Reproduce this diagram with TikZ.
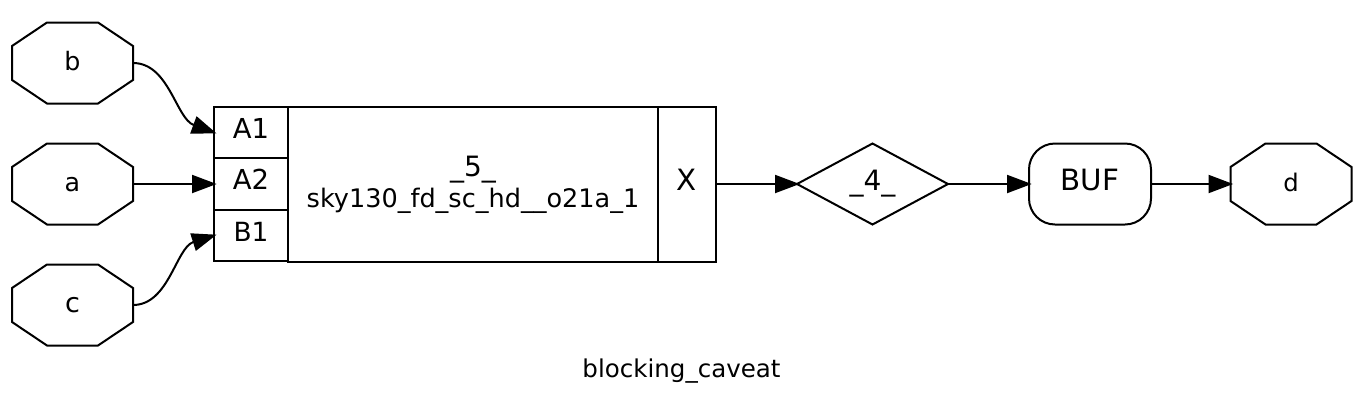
\documentclass[tikz,border=0pt]{standalone}
\usepackage{fontspec}
\setmainfont{DejaVu Sans}
\usetikzlibrary{arrows.meta,calc}
\newlength\px \setlength\px{0.75pt}
\newcommand\octa[1]{\draw[shape line] ($(#1.west)+(0,17\px)$) -- ($(#1.north west)+(35\px,0)$) -- ($(#1.north east)+(-35\px,0)$) -- ($(#1.east)+(0,17\px)$) -- ($(#1.east)+(0,-17\px)$) -- ($(#1.south east)+(-35\px,0)$) -- ($(#1.south west)+(35\px,0)$) -- ($(#1.west)+(0,-17\px)$) -- cycle;}
\tikzset{
  shape line/.style={draw=black,line width=1.5pt,line join=miter},
  base/.style={inner sep=0pt,outer sep=0pt,align=center,text=black},
  fs/.style={font=\fontsize{#1}{#1}\selectfont},
  bl/.style={text height=#1*2*0.75pt,text depth=0pt},
  octo/.style={base,bl=7,minimum width=121\px,minimum height=81\px},
  field/.style={base,shape line,rectangle},
  wire/.style={draw=black,line width=1.5pt,shorten >=-2pt,-{Triangle[length=18.5pt,width=13.5pt]}}
}
\begin{document}
\begin{tikzpicture}[x=0.75pt,y=-0.75pt]
\useasboundingbox[fill=white] (0,0) rectangle (1366,408);
\node[octo,fs=19] (b) at (72.5,63) {b};
\node[octo,fs=19] (a) at (72.5,184) {a};
\node[octo,fs=20.3] (c) at (72.5,305) {c};
\node[octo,fs=18.2] (d) at (1291,184) {d};
\octa{b}\octa{a}\octa{c}\octa{d}
\node[field,fs=20.6,bl=5.5,minimum width=74\px,minimum height=51.5\px] (A1) at (251,132.5) {A1};
\node[field,fs=20.6,bl=5.5,minimum width=74\px,minimum height=52\px] (A2) at (251,184) {A2};
\node[field,fs=19.8,bl=5.5,minimum width=74\px,minimum height=51.5\px] (B1) at (251,235.5) {B1};
\node[field,minimum width=370\px,minimum height=155\px] (main) at (473,184) {};
\node[base,fs=21,bl=6] (five) at (473,170) {\_5\_};
\node[base,fs=19.15,bl=6] (cell) at (473,201) {sky130\_fd\_sc\_hd\_\_o21a\_1};
\node[field,fs=22,bl=6,minimum width=58\px,minimum height=155\px] (X) at (687,184) {X};
\node[base,fs=21,bl=6,minimum width=151\px,minimum height=81\px] (four) at (872.5,184) {\_4\_};
\draw[shape line] (four.west) -- (four.north) -- (four.east) -- (four.south) -- cycle;
\node[field,fs=22,bl=6,rounded corners=26\px,minimum width=122\px,minimum height=81\px] (buf) at (1090,184) {BUF};
\node[base,fs=18.4,bl=7] (title) at (681.5,370) {blocking\_caveat};
\draw[wire] (b.east) .. controls ($(b.east)+(36\px,0)$) and ($(A1.west)+(-38\px,14\px)$) .. (A1.west);
\draw[wire] (a.east) -- (A2.west);
\draw[wire] (c.east) .. controls ($(c.east)+(36\px,0)$) and ($(B1.west)+(-38\px,-12\px)$) .. (B1.west);
\draw[wire] (X.east) -- (four.west);
\draw[wire] (four.east) -- (buf.west);
\draw[wire] (buf.east) -- (d.west);
\end{tikzpicture}
\end{document}
